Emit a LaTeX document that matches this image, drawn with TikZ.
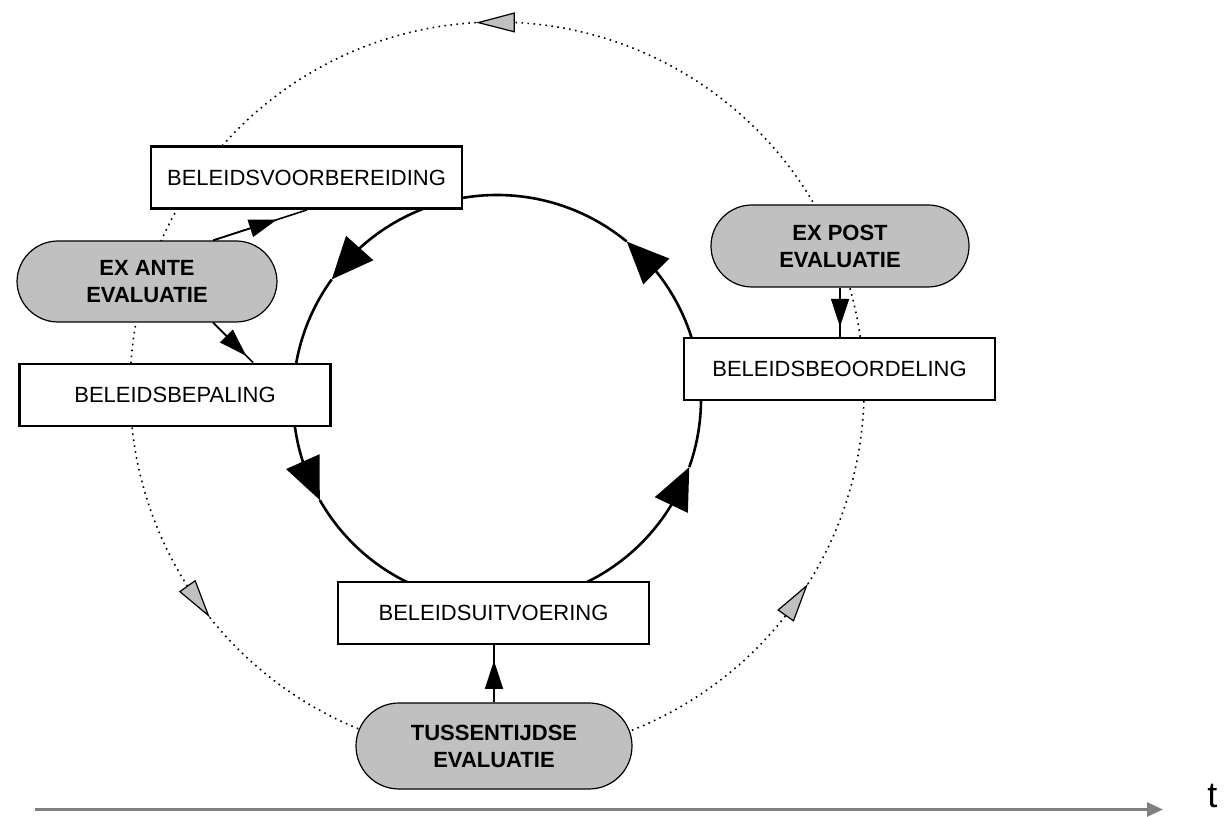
\documentclass[tikz,border=0pt]{standalone}
\usepackage{fontspec}
\setmainfont{Liberation Sans}
\usetikzlibrary{arrows.meta,bending,calc}
\definecolor{nodegray}{HTML}{C0C0C0}
\definecolor{axisgray}{HTML}{808080}
\begin{document}
\begin{tikzpicture}[x=0.5pt,y=0.5pt,
  stagebox/.style={draw=black, line width=1.4pt, fill=white, minimum width=155.5pt,
    minimum height=31pt, inner sep=0pt, font=\fontsize{11}{13}\selectfont},
  evalnode/.style={draw=black, line width=0.6pt, fill=nodegray, rounded corners=20.5pt,
    inner sep=0pt, align=center, font=\bfseries\fontsize{11}{13.5}\selectfont},
  cyclearc/.style={line width=1.3pt, -{Triangle[length=21pt,width=18pt]}},
  dotarc/.style={line width=0.8pt, dash pattern=on 0.8pt off 2.2pt,
    -{Triangle[length=19.5pt,width=10pt,fill=nodegray,line width=0.6pt]}},
  conn/.style={line width=0.8pt},
  connhead/.style={line width=0.8pt, -{Triangle[length=14pt,width=9pt]}},
  timeaxis/.style={draw=axisgray, line width=1.5pt, -{Triangle[length=8pt,width=7pt]}}
]
\useasboundingbox (0,0) rectangle (1225,817);

\coordinate (C1) at (497,418);
\coordinate (C2) at (497,428);

% dotted outer cycle
\draw[dotarc] ($(C2)+(93.3:367)$) arc[start angle=93.3, end angle=218.5, radius=367];
\draw[dotarc] ($(C2)+(218.5:367)$) arc[start angle=218.5, end angle=327.9, radius=367];
\draw[dotarc] ($(C2)+(327.9:367)$) arc[start angle=327.9, end angle=453.3, radius=367];

% main policy cycle
\draw[cyclearc] ($(C1)+(50.5:204)$) arc[start angle=50.5, end angle=144.1, radius=204];
\draw[cyclearc] ($(C1)+(144.1:204)$) arc[start angle=144.1, end angle=209.7, radius=204];
\draw[cyclearc] ($(C1)+(209.7:204)$) arc[start angle=209.7, end angle=340.5, radius=204];
\draw[cyclearc] ($(C1)+(340.5:204)$) arc[start angle=340.5, end angle=410.5, radius=204];

% stage boxes
\node[stagebox] (BV) at (306.5,639.5) {BELEIDSVOORBEREIDING};
\node[stagebox] (BB) at (175,422) {BELEIDSBEPALING};
\node[stagebox] (BO) at (839.5,448) {BELEIDSBEOORDELING};
\node[stagebox] (BU) at (493.5,204) {BELEIDSUITVOERING};

% evaluation nodes
\node[evalnode, minimum width=130pt, minimum height=40.5pt] (EXA) at (147,535.5) {EX ANTE\\EVALUATIE};
\node[evalnode, minimum width=129pt, minimum height=41pt] (EXP) at (840,571) {EX POST\\EVALUATIE};
\node[evalnode, minimum width=138pt, minimum height=43pt, rounded corners=21.5pt] (TUS) at (494,71) {TUSSENTIJDSE\\EVALUATIE};

% connectors
\coordinate (a1) at ($(EXA.north)+(66,0)$);
\coordinate (b1) at ($(BV.south)+(0.5,0)$);
\draw[conn] (a1) -- (b1);
\draw[connhead] (a1) -- ($(a1)!0.68!(b1)$);

\coordinate (a2) at ($(EXA.south)+(66,0)$);
\coordinate (b2) at ($(BB.north)+(78,0)$);
\draw[conn] (a2) -- (b2);
\draw[connhead] (a2) -- ($(a2)!0.83!(b2)$);

\coordinate (b3) at (EXP.south |- BO.north);
\draw[conn] (EXP.south) -- (b3);
\draw[connhead] (EXP.south) -- ($(EXP.south)!0.8!(b3)$);

\coordinate (b4) at (TUS.north |- BU.south);
\draw[conn] (TUS.north) -- (b4);
\draw[connhead] (TUS.north) -- ($(TUS.north)!0.73!(b4)$);

% time axis
\coordinate (t0) at (35,7.5);
\coordinate (t1) at (1163,7.5);
\draw[timeaxis] (t0) -- (t1);
\node[anchor=base west, inner sep=0pt, font=\fontsize{18}{21}\selectfont] (tlab) at (1207,9) {t};
\end{tikzpicture}
\end{document}
